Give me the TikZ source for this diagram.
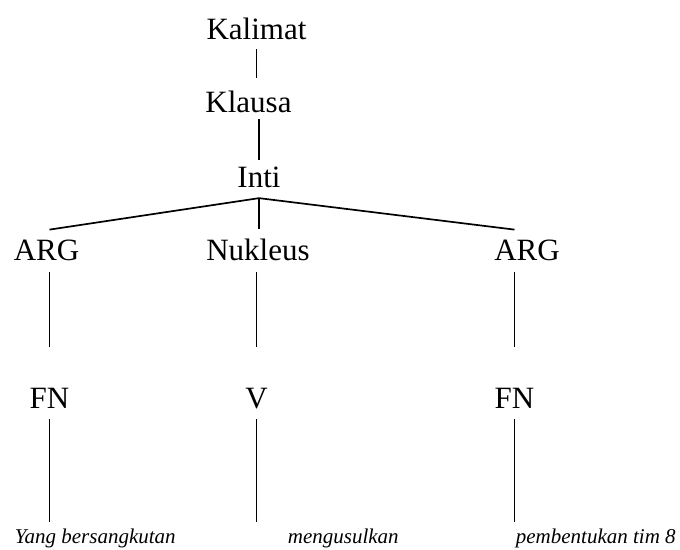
\documentclass[tikz,border=0pt]{standalone}
\usepackage{fontspec}
\setmainfont{Liberation Serif}
\usepackage{tikz}

\tikzset{
    lbl/.style={anchor=base, inner sep=0pt, font=\fontsize{31}{36}\selectfont},
    lblmid/.style={lbl, inner xsep=0pt, inner ysep=10pt},
    lblcat/.style={lbl, inner xsep=0pt, inner ysep=9pt},
    word/.style={anchor=base west, inner sep=0pt, font=\fontsize{21}{25}\selectfont\itshape}
}

\begin{document}
\begin{tikzpicture}[x=1pt,y=1pt,line width=1.7pt]
\useasboundingbox (0,0) rectangle (680,549);

% Top of the tree
\node[lbl] (kal) at (256.5,509) {Kalimat};
\node[lbl] (kla) at (248.5,436) {Klausa};
\node[lbl] (inti) at (259,361) {Inti};
\coordinate (apex) at ([yshift=-9pt]inti.south);

% Second row
\node[lblmid] (argL) at (46.5,288) {ARG};
\node[lblmid] (nuk) at (258,288) {Nukleus};
\node[lblmid] (argR) at (527,288) {ARG};

% Categories
\node[lblcat] (fnL) at (49.5,140) {FN};
\node[lblcat] (verb) at (256.5,140) {V};
\node[lblcat] (fnR) at (514.5,140) {FN};

% Words
\node[word] (wL) at (14,6) {Yang bersangkutan};
\node[word] (wM) at (287,6) {mengusulkan};
\node[word] (wR) at (515,6) {pembentukan tim 8};

% Lines
\draw[shorten <=8pt, shorten >=13pt] (kal.south) -- (kal.south |- kla.north);
\draw[shorten <=5pt, shorten >=7pt] (inti.north |- kla.south) -- (inti.north);
\draw (argL.north -| fnL) -- (apex) -- (argR.north -| fnR);
\draw (apex) -- (apex |- nuk.north);

\draw[shorten >=32pt] (argL.south -| fnL) -- (fnL.north);
\draw[shorten >=32pt] (nuk.south -| verb) -- (verb.north);
\draw[shorten >=32pt] (argR.south -| fnR) -- (fnR.north);

\draw[shorten >=6pt] (fnL.south) -- (fnL.south |- wL.north);
\draw[shorten >=6pt] (verb.south) -- (verb.south |- wM.north);
\draw[shorten >=6pt] (fnR.south) -- (fnR.south |- wR.north);

\end{tikzpicture}
\end{document}
